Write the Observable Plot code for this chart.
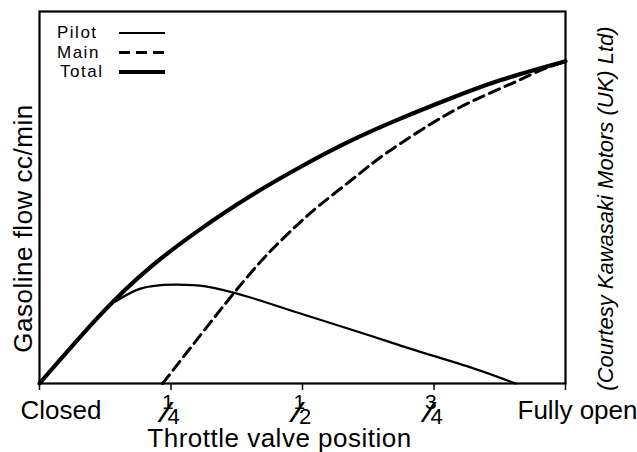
<!DOCTYPE html>
<html><head><meta charset="utf-8">
<script src="https://cdn.jsdelivr.net/npm/d3@7"></script>
<script src="https://cdn.jsdelivr.net/npm/@observablehq/plot@0.6"></script>
<style>
body{margin:0;background:#fff}
#chart{position:relative;width:637px;height:452px;font-family:"Liberation Sans",Arial,sans-serif}
#legend{position:absolute;left:0;top:0}
</style>
</head><body><div id="chart"></div>
<script>
// Throttle position (0 = closed, 1 = fully open)
const tickPositions = [0, 0.25, 0.5, 0.75, 1];
const endLabels = ["Closed", "Fully open"];
const endPositions = [0, 1];
const fractionNum = ["1", "1", "3"];
const fractionDen = ["4", "2", "4"];
const fractionPos = [0.25, 0.5, 0.75];

const seriesNames = ["Pilot", "Main", "Total"];

// Gasoline flow (relative units; the original has no scale)
const pilotX = [0, 0.116, 0.141, 0.192, 0.255, 0.316, 0.401, 0.496, 0.610, 0.724, 0.814, 0.905];
const pilotY = [0, 18.5, 21.8, 25.5, 26.6, 26.1, 23.1, 18.8, 13.7, 8.5, 4.6, 0];

const mainX = [0.234, 0.306, 0.373, 0.420, 0.458, 0.496, 0.534, 0.586, 0.635, 0.686, 0.749, 0.814, 0.876, 0.914, 0.958, 1.0];
const mainY = [0, 13.0, 24.9, 32.7, 38.3, 43.4, 48.1, 53.9, 59.4, 64.5, 70.2, 75.3, 79.3, 81.7, 84.5, 86.6];

const totalX = [0, 0.116, 0.211, 0.306, 0.401, 0.496, 0.591, 0.686, 0.781, 0.876, 1.0];
const totalY = [0, 18.5, 31.3, 41.5, 50.4, 58.2, 65.2, 71.2, 76.6, 81.5, 86.6];

const styles = {
  Pilot: {strokeWidth: 2.2, dash: null},
  Main: {strokeWidth: 3, dash: "11,6"},
  Total: {strokeWidth: 4.2, dash: null}
};

const SLASH = "\u2044";
const pilot = pilotX.map((x, i) => ({x, y: pilotY[i]}));
const main = mainX.map((x, i) => ({x, y: mainY[i]}));
const total = totalX.map((x, i) => ({x, y: totalY[i]}));
const fractions = fractionPos.map((x, i) => ({x, label: fractionNum[i] + SLASH + fractionDen[i]}));
const ends = endPositions.map((x, i) => ({x, label: endLabels[i]}));
const xTitle = "Throttle valve position";
const yTitle = "Gasoline flow cc/min";
const credit = "(Courtesy Kawasaki Motors (UK) Ltd)";

const font = "'Liberation Sans', Arial, sans-serif";

const chart = Plot.plot({
  width: 637,
  height: 452,
  marginLeft: 39,
  marginRight: 72,
  marginTop: 11,
  marginBottom: 69,
  style: {fontFamily: font, color: "#000", background: "#fff"},
  x: {domain: [0, 1]},
  y: {domain: [0, 100]},
  marks: [
    Plot.frame({stroke: "#000", strokeWidth: 2.2}),
    Plot.axisX({
      ticks: tickPositions,
      tickFormat: () => "",
      tickSize: 7,
      strokeWidth: 1.5,
      label: null
    }),
    Plot.axisY({ticks: [], label: null}),
    Plot.text([ends[0]], {x: "x", text: "label", frameAnchor: "bottom", lineAnchor: "bottom", dy: 35, dx: 21.5, fontSize: 26}),
    Plot.text([ends[1]], {x: "x", text: "label", frameAnchor: "bottom", lineAnchor: "bottom", dy: 35, dx: 12, fontSize: 26}),
    Plot.text([xTitle], {
      frameAnchor: "bottom", lineAnchor: "bottom", textAnchor: "middle", text: (d) => d, dy: 63, dx: -23, fontSize: 26
    }),
    Plot.text([yTitle], {
      frameAnchor: "left", textAnchor: "middle", text: (d) => d, rotate: -90, dx: -16, dy: 31, fontSize: 26
    }),
    Plot.text([credit], {
      frameAnchor: "right", textAnchor: "middle", text: (d) => d, rotate: -90, dx: 40, dy: 11, fontSize: 22, fontStyle: "italic"
    }),
    Plot.text(fractions, {x: "x", text: "label", frameAnchor: "bottom", lineAnchor: "bottom", textAnchor: "start", fontSize: 20}),
    Plot.line(pilot, {x: "x", y: "y", curve: "natural", stroke: "#000", strokeWidth: styles.Pilot.strokeWidth}),
    Plot.line(main, {x: "x", y: "y", curve: "natural", stroke: "#000", strokeWidth: styles.Main.strokeWidth, strokeDasharray: styles.Main.dash}),
    Plot.line(total, {x: "x", y: "y", curve: "natural", stroke: "#000", strokeWidth: styles.Total.strokeWidth})
  ]
});

const svg = d3.select(chart);
// drop the empty tick-label texts of the x axis (labels are drawn as separate text marks)
svg.selectAll("g[aria-label='x-axis tick label']").remove();
svg.selectAll("text").filter(function () {
  return this.textContent === xTitle || this.textContent === yTitle;
}).attr("letter-spacing", 0.5);

// typeset the fractions as a raised numerator, a slash and a lowered denominator
svg.selectAll("text").filter(function () {
  return this.textContent.includes(SLASH);
}).each(function () {
  const [num, den] = this.textContent.split(SLASH);
  const t = d3.select(this).attr("y", null).attr("dy", null).text("");
  t.append("tspan").attr("x", -9).attr("y", 25.5).attr("font-size", 21).text(num);
  t.append("tspan").attr("x", -8).attr("y", 38.5).attr("font-size", 30).attr("font-weight", "bold").text(SLASH);
  t.append("tspan").attr("x", -3.5).attr("y", 40).attr("font-size", 22).text(den);
});

const container = document.getElementById("chart");
container.appendChild(chart);

// Legend (inside the plot area, top-left)
const legend = d3.select(container).append("svg")
  .attr("id", "legend").attr("width", 200).attr("height", 90)
  .style("font-family", font);
seriesNames.forEach((name, i) => {
  const yy = 33 + i * 19.5;
  legend.append("text").attr("x", name === "Total" ? 60 : 57).attr("y", yy + 5)
    .attr("font-size", 17).attr("letter-spacing", 1.5).text(name);
  legend.append("line").attr("x1", 119).attr("x2", 165).attr("y1", yy).attr("y2", yy)
    .attr("stroke", "#000").attr("stroke-width", styles[name].strokeWidth)
    .attr("stroke-dasharray", styles[name].dash);
});
</script>
</body></html>
